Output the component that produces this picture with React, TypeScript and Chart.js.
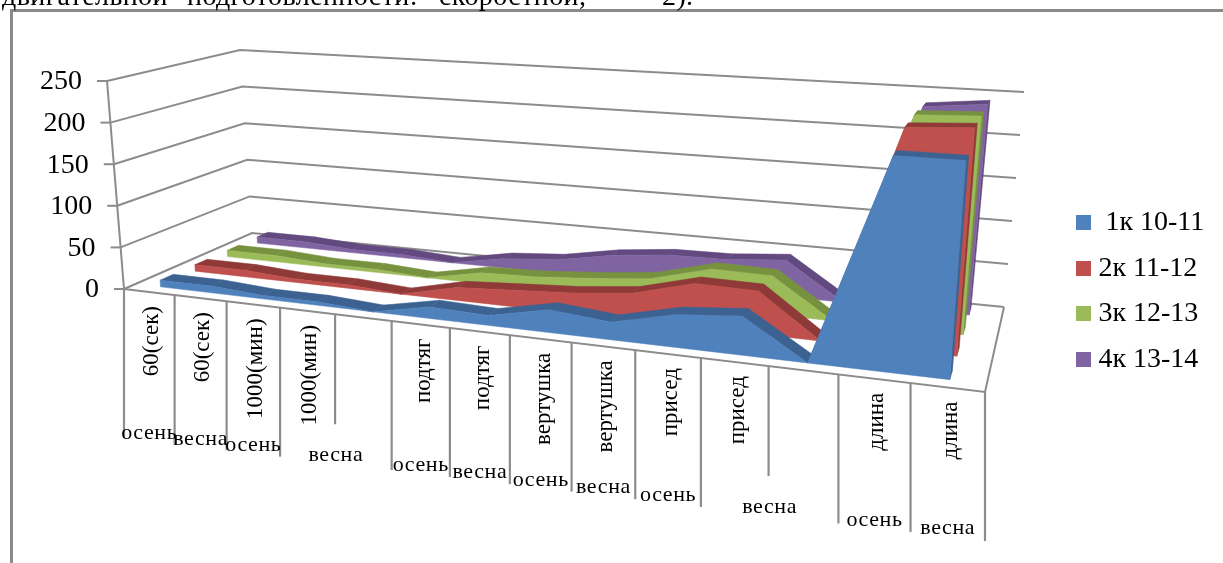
import React, { useEffect, useRef } from "react";
import { Chart, registerables } from "chart.js";

Chart.register(...registerables);

const categories = ["60(сек)", "60(сек)", "1000(мин)", "1000(мин)", "", "подтяг", "подтяг", "вертушка", "вертушка", "присед", "присед", "", "длина", "длина"];
const seasons = ["осень", "весна", "осень", "весна", "осень", "весна", "осень", "весна", "осень", "весна", "осень", "весна"];
const seasonSpans = [1, 1, 1, 2, 1, 1, 1, 1, 1, 2, 1, 1];
const seriesNames = [" 1к 10-11", "2к 11-12", "3к 12-13", "4к 13-14"];
const course1 = [8, 8, 4, 4, 0, 13, 11, 25, 19, 35, 41, 0, 220, 220];
const course2 = [8, 8, 4, 4, 0, 15, 19, 23, 30, 48, 47, 0, 236, 240];
const course3 = [8, 8, 4, 4, 0, 13, 15, 20, 27, 45, 44, 0, 237, 240];
const course4 = [8, 8, 4, 4, 0, 12, 17, 29, 36, 37, 43, 0, 234, 241];
const faceColors = ["#4F81BD", "#C0504D", "#9BBB59", "#8064A2"];
const topColors = ["#3C6291", "#8F3A38", "#76923F", "#62497F"];
const captionParts = ["двигательной", "подготовленности:", "скоростной,", "2)."];

type Pt = [number, number];

// Maps the unit square onto a quadrilateral (corners: u0d0, u1d0, u1d1, u0d1).
function quadMap(p0: Pt, p1: Pt, p2: Pt, p3: Pt) {
  const sx = p0[0] - p1[0] + p2[0] - p3[0];
  const sy = p0[1] - p1[1] + p2[1] - p3[1];
  const dx1 = p1[0] - p2[0], dx2 = p3[0] - p2[0];
  const dy1 = p1[1] - p2[1], dy2 = p3[1] - p2[1];
  const det = dx1 * dy2 - dx2 * dy1;
  const g = (sx * dy2 - dx2 * sy) / det;
  const h = (dx1 * sy - sx * dy1) / det;
  const a = p1[0] - p0[0] + g * p1[0], b = p3[0] - p0[0] + h * p3[0];
  const d = p1[1] - p0[1] + g * p1[1], e = p3[1] - p0[1] + h * p3[1];
  return (u: number, v: number): Pt => {
    const w = 1 + g * u + h * v;
    return [(a * u + b * v + p0[0]) / w, (d * u + e * v + p0[1]) / w];
  };
}

// The box of the 3D plot: its floor and the plane of the axis maximum.
const floorMap = quadMap([124, 289], [985, 392], [1004, 307], [252, 233]);
const ceilingMap = quadMap([107, 81], [1003, 137], [1024, 92], [240, 50]);

function project(u: number, depth: number, level: number): Pt {
  const uu = u + 0.028 * u * (1 - u);
  const f = floorMap(uu, depth);
  const c = ceilingMap(uu, depth);
  return [f[0] + (c[0] - f[0]) * level, f[1] + (c[1] - f[1]) * level];
}

function fillPoly(ctx: CanvasRenderingContext2D, pts: Pt[], color: string) {
  ctx.beginPath();
  pts.forEach((p, i) => (i ? ctx.lineTo(p[0], p[1]) : ctx.moveTo(p[0], p[1])));
  ctx.closePath();
  ctx.fillStyle = color;
  ctx.strokeStyle = color;
  ctx.lineWidth = 0.5;
  ctx.fill();
  ctx.stroke();
}

function strokeLine(ctx: CanvasRenderingContext2D, pts: Pt[]) {
  ctx.beginPath();
  pts.forEach((p, i) => (i ? ctx.lineTo(p[0], p[1]) : ctx.moveTo(p[0], p[1])));
  ctx.stroke();
}

const area3d = {
  id: "area3d",
  afterDatasetsDraw(chart: any) {
    const { ctx } = chart;
    const xs = chart.scales.x;
    const ys = chart.scales.y;
    const n = categories.length;
    const serif = '"Liberation Serif"';
    ctx.save();

    // Frame and the cropped line of page text above it
    ctx.strokeStyle = "#8a8a8a";
    ctx.lineWidth = 3;
    strokeLine(ctx, [[11.5, 563], [11.5, 10.5], [1223, 10.5]]);
    ctx.fillStyle = "#000";
    ctx.font = `28px ${serif}`;
    ctx.textAlign = "left";
    ctx.textBaseline = "alphabetic";
    (ctx as any).letterSpacing = "0.4px";
    [2, 187, 439, 662].forEach((x, i) => ctx.fillText(captionParts[i], x, 5));
    (ctx as any).letterSpacing = "0px";

    // Walls and floor
    ctx.strokeStyle = "#8c8c8c";
    ctx.lineWidth = 2;
    const tickValues = ys.ticks.map((t: any) => t.value);
    tickValues.forEach((value: number) => {
      const lv = ys.getDecimalForPixel(ys.getPixelForValue(value));
      strokeLine(ctx, [project(0, 0, lv), project(0, 1, lv), project(1, 1, lv)]);
    });
    strokeLine(ctx, [project(0, 0, 0), project(1, 0, 0), project(1, 1, 0)]);
    strokeLine(ctx, [project(0, 0, 0), project(0, 0, 1)]);

    // Areas, back series first: top strip, end face, then front face
    const depthOf = (i: number) => 0.08 + 0.255 * i;
    for (let s = chart.data.datasets.length - 1; s >= 0; s--) {
      const meta = chart.getDatasetMeta(s);
      const d0 = depthOf(s);
      const d1 = d0 + 0.095;
      const uv = meta.data.map((el: any) => [xs.getDecimalForPixel(el.x), ys.getDecimalForPixel(el.y)]);
      for (let i = 0; i < n - 1; i++) {
        fillPoly(ctx, [
          project(uv[i][0], d0, uv[i][1]),
          project(uv[i + 1][0], d0, uv[i + 1][1]),
          project(uv[i + 1][0], d1, uv[i + 1][1]),
          project(uv[i][0], d1, uv[i][1]),
        ], topColors[s]);
      }
      const last = uv[n - 1];
      fillPoly(ctx, [
        project(last[0], d0, last[1]),
        project(last[0], d1, last[1]),
        project(last[0], d1, 0),
        project(last[0], d0, 0),
      ], topColors[s]);
      const front: Pt[] = uv.map((p: number[]) => project(p[0], d0, p[1]));
      front.push(project(last[0], d0, 0), project(uv[0][0], d0, 0));
      fillPoly(ctx, front, faceColors[s]);
    }

    // Value axis ticks and labels
    ctx.strokeStyle = "#8c8c8c";
    ctx.lineWidth = 2;
    ctx.fillStyle = "#000";
    ctx.font = `28px ${serif}`;
    ctx.textAlign = "right";
    ctx.textBaseline = "middle";
    ys.ticks.forEach((t: any) => {
      const lv = ys.getDecimalForPixel(ys.getPixelForValue(t.value));
      const p = project(0, 0, lv);
      strokeLine(ctx, [[p[0] - 10, p[1]], p]);
      ctx.fillText(String(t.value), p[0] - 25, p[1] + 1);
    });

    // Category ticks: long where a season group starts, short inside a group
    const half = 0.5 / n;
    const starts = new Set<number>();
    let at = 0;
    seasonSpans.forEach((span) => { starts.add(at); at += span; });
    starts.add(n);
    const decimalOf = (i: number) => xs.getDecimalForPixel(xs.getPixelForValue(i));
    ctx.lineWidth = 2.2;
    for (let i = 0; i <= n; i++) {
      const u = i < n ? decimalOf(i) - half : decimalOf(n - 1) + half;
      const p = project(u, 0, 0);
      const len = starts.has(i) ? 149 : 110;
      strokeLine(ctx, [p, [p[0], p[1] + len]]);
    }

    // First-level labels, rotated
    ctx.font = `23px ${serif}`;
    ctx.textAlign = "right";
    categories.forEach((label, i) => {
      if (!label) return;
      const p = project(decimalOf(i), 0, 0);
      ctx.save();
      ctx.translate(p[0] + 3, p[1] + 14);
      ctx.rotate(-Math.PI / 2);
      ctx.fillText(label, 0, 0);
      ctx.restore();
    });

    // Second-level labels
    ctx.font = `22px ${serif}`;
    ctx.textAlign = "center";
    (ctx as any).letterSpacing = "0.6px";
    at = 0;
    seasons.forEach((label, i) => {
      const span = seasonSpans[i];
      const a = project(decimalOf(at) - half, 0, 0);
      const b = project(decimalOf(at + span - 1) + half, 0, 0);
      const mid = project((decimalOf(at) - half + decimalOf(at + span - 1) + half) / 2, 0, 0);
      ctx.fillText(label, (a[0] + b[0]) / 2, mid[1] + 141);
      at += span;
    });
    (ctx as any).letterSpacing = "0px";
    ctx.restore();
  },
};

function swatch(color: string) {
  const c = document.createElement("canvas");
  c.width = 15;
  c.height = 15;
  const g = c.getContext("2d");
  if (g) {
    g.fillStyle = color;
    g.fillRect(0, 0, 15, 15);
  }
  return c;
}

export default function App() {
  const ref = useRef<HTMLCanvasElement>(null);
  useEffect(() => {
    if (!ref.current) return;
    const values = [course1, course2, course3, course4];
    const chart = new Chart(ref.current, {
      type: "line",
      data: {
        labels: categories,
        datasets: values.map((data, i) => ({
          label: seriesNames[i],
          data,
          backgroundColor: faceColors[i],
          borderColor: faceColors[i],
          showLine: false,
          pointRadius: 0,
          pointStyle: swatch(faceColors[i]) as any,
        })),
      },
      options: {
        responsive: false,
        animation: false,
        layout: { padding: { top: 19, right: 8.7, bottom: 0, left: 0 } },
        scales: {
          x: { type: "category", display: false, offset: true },
          y: { type: "linear", display: false, min: 0, max: 250, ticks: { stepSize: 50 } },
        },
        plugins: {
          title: { display: false },
          tooltip: { enabled: false },
          legend: {
            position: "right",
            labels: {
              usePointStyle: true,
              boxWidth: 1,
              padding: 17.7,
              color: "#000",
              font: { family: '"Liberation Serif"', size: 28 },
            },
          },
        },
      },
      plugins: [area3d],
    });
    return () => chart.destroy();
  }, []);
  return (
    <div style={{ position: "fixed", left: 0, top: 0, width: 1223, height: 563, background: "#fff", overflow: "hidden" }}>
      <canvas ref={ref} width={1223} height={563} style={{ display: "block" }} />
    </div>
  );
}
